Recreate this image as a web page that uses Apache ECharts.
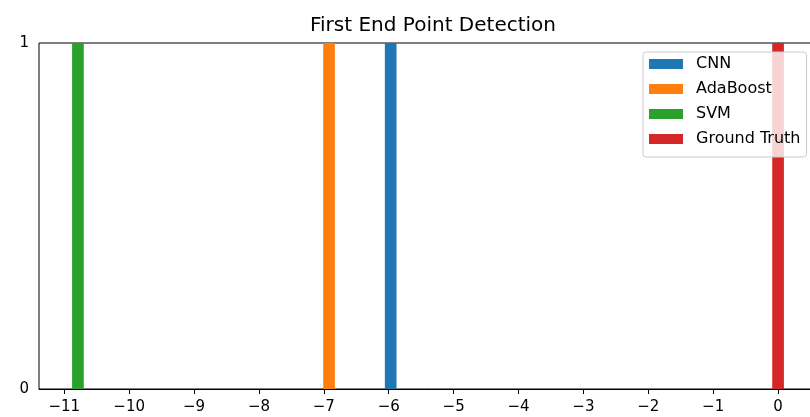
<!DOCTYPE html>
<html>
<head>
<meta charset="utf-8">
<script src="https://cdn.jsdelivr.net/npm/echarts@6/dist/echarts.min.js"></script>
<style>html,body{margin:0;padding:0;background:#fff}#c{width:810px;height:417px}</style>
</head>
<body>
<div id="c"></div>
<script>
var methods = ['CNN', 'AdaBoost', 'SVM', 'Ground Truth'];
var positions = [-5.97, -6.92, -10.79, 0];
var heights = [1, 1, 1, 1];
var binWidth = 0.18;
var xTicks = [-11, -10, -9, -8, -7, -6, -5, -4, -3, -2, -1, 0];
var yTicks = [0, 1];
var colors = ['#1f77b4', '#ff7f0e', '#2ca02c', '#d62728'];

var FONT = 'DejaVu Sans';
var chart = echarts.init(document.getElementById('c'), null, {renderer: 'canvas'});

function renderBar(params, api) {
  var x = api.value(0), h = api.value(1);
  var p0 = api.coord([x - binWidth / 2, h]);
  var p1 = api.coord([x + binWidth / 2, 0]);
  return {
    type: 'rect',
    shape: {x: p0[0], y: p0[1], width: p1[0] - p0[0], height: p1[1] - p0[1]},
    style: {fill: api.visual('color')}
  };
}

var series = methods.map(function (m, i) {
  return {
    type: 'custom',
    name: m,
    renderItem: renderBar,
    itemStyle: {color: colors[i]},
    encode: {x: 0, y: 1},
    data: [[positions[i], heights[i]]],
    clip: true
  };
});

function fmt(v) { return String(v).replace('-', '\u2212'); }

chart.setOption({
  animation: false,
  textStyle: {fontFamily: FONT},
  title: {
    text: 'First End Point Detection',
    left: 428, top: 11, textAlign: 'center',
    textStyle: {fontFamily: FONT, fontSize: 20, fontWeight: 'normal', color: '#000'}
  },
  grid: {left: 39, right: -7, top: 43, bottom: 28, containLabel: false, outerBoundsMode: 'none',
         show: true, borderColor: '#000', borderWidth: 1, backgroundColor: 'transparent'},
  legend: {
    orient: 'vertical',
    left: 643, top: 52,
    data: methods.map(function (m) { return {name: m, icon: 'rect'}; }),
    itemWidth: 34, itemHeight: 10, itemGap: 7,
    padding: [3, 6, 9, 6],
    backgroundColor: 'rgba(255,255,255,0.8)',
    borderColor: '#cccccc', borderWidth: 1, borderRadius: 3,
    textStyle: {fontFamily: FONT, fontSize: 16, color: '#000', padding: [0, 0, 0, 8], lineHeight: 18}
  },
  xAxis: {
    type: 'value', min: -11.39, max: 0.6,
    splitLine: {show: false},
    axisLine: {show: true, onZero: false, lineStyle: {color: '#000', width: 1}},
    axisTick: {show: true, length: 5, customValues: xTicks, lineStyle: {color: '#000'}},
    axisLabel: {customValues: xTicks, formatter: fmt, margin: 11, fontFamily: FONT, fontSize: 15, color: '#000'}
  },
  yAxis: {
    type: 'value', min: 0, max: 1,
    splitLine: {show: false},
    axisLine: {show: true, lineStyle: {color: '#000', width: 1}},
    axisTick: {show: true, length: 5, customValues: yTicks, lineStyle: {color: '#000'}},
    axisLabel: {customValues: yTicks, margin: 10, fontFamily: FONT, fontSize: 15, color: '#000'}
  },
  series: series
});
</script>
</body>
</html>
